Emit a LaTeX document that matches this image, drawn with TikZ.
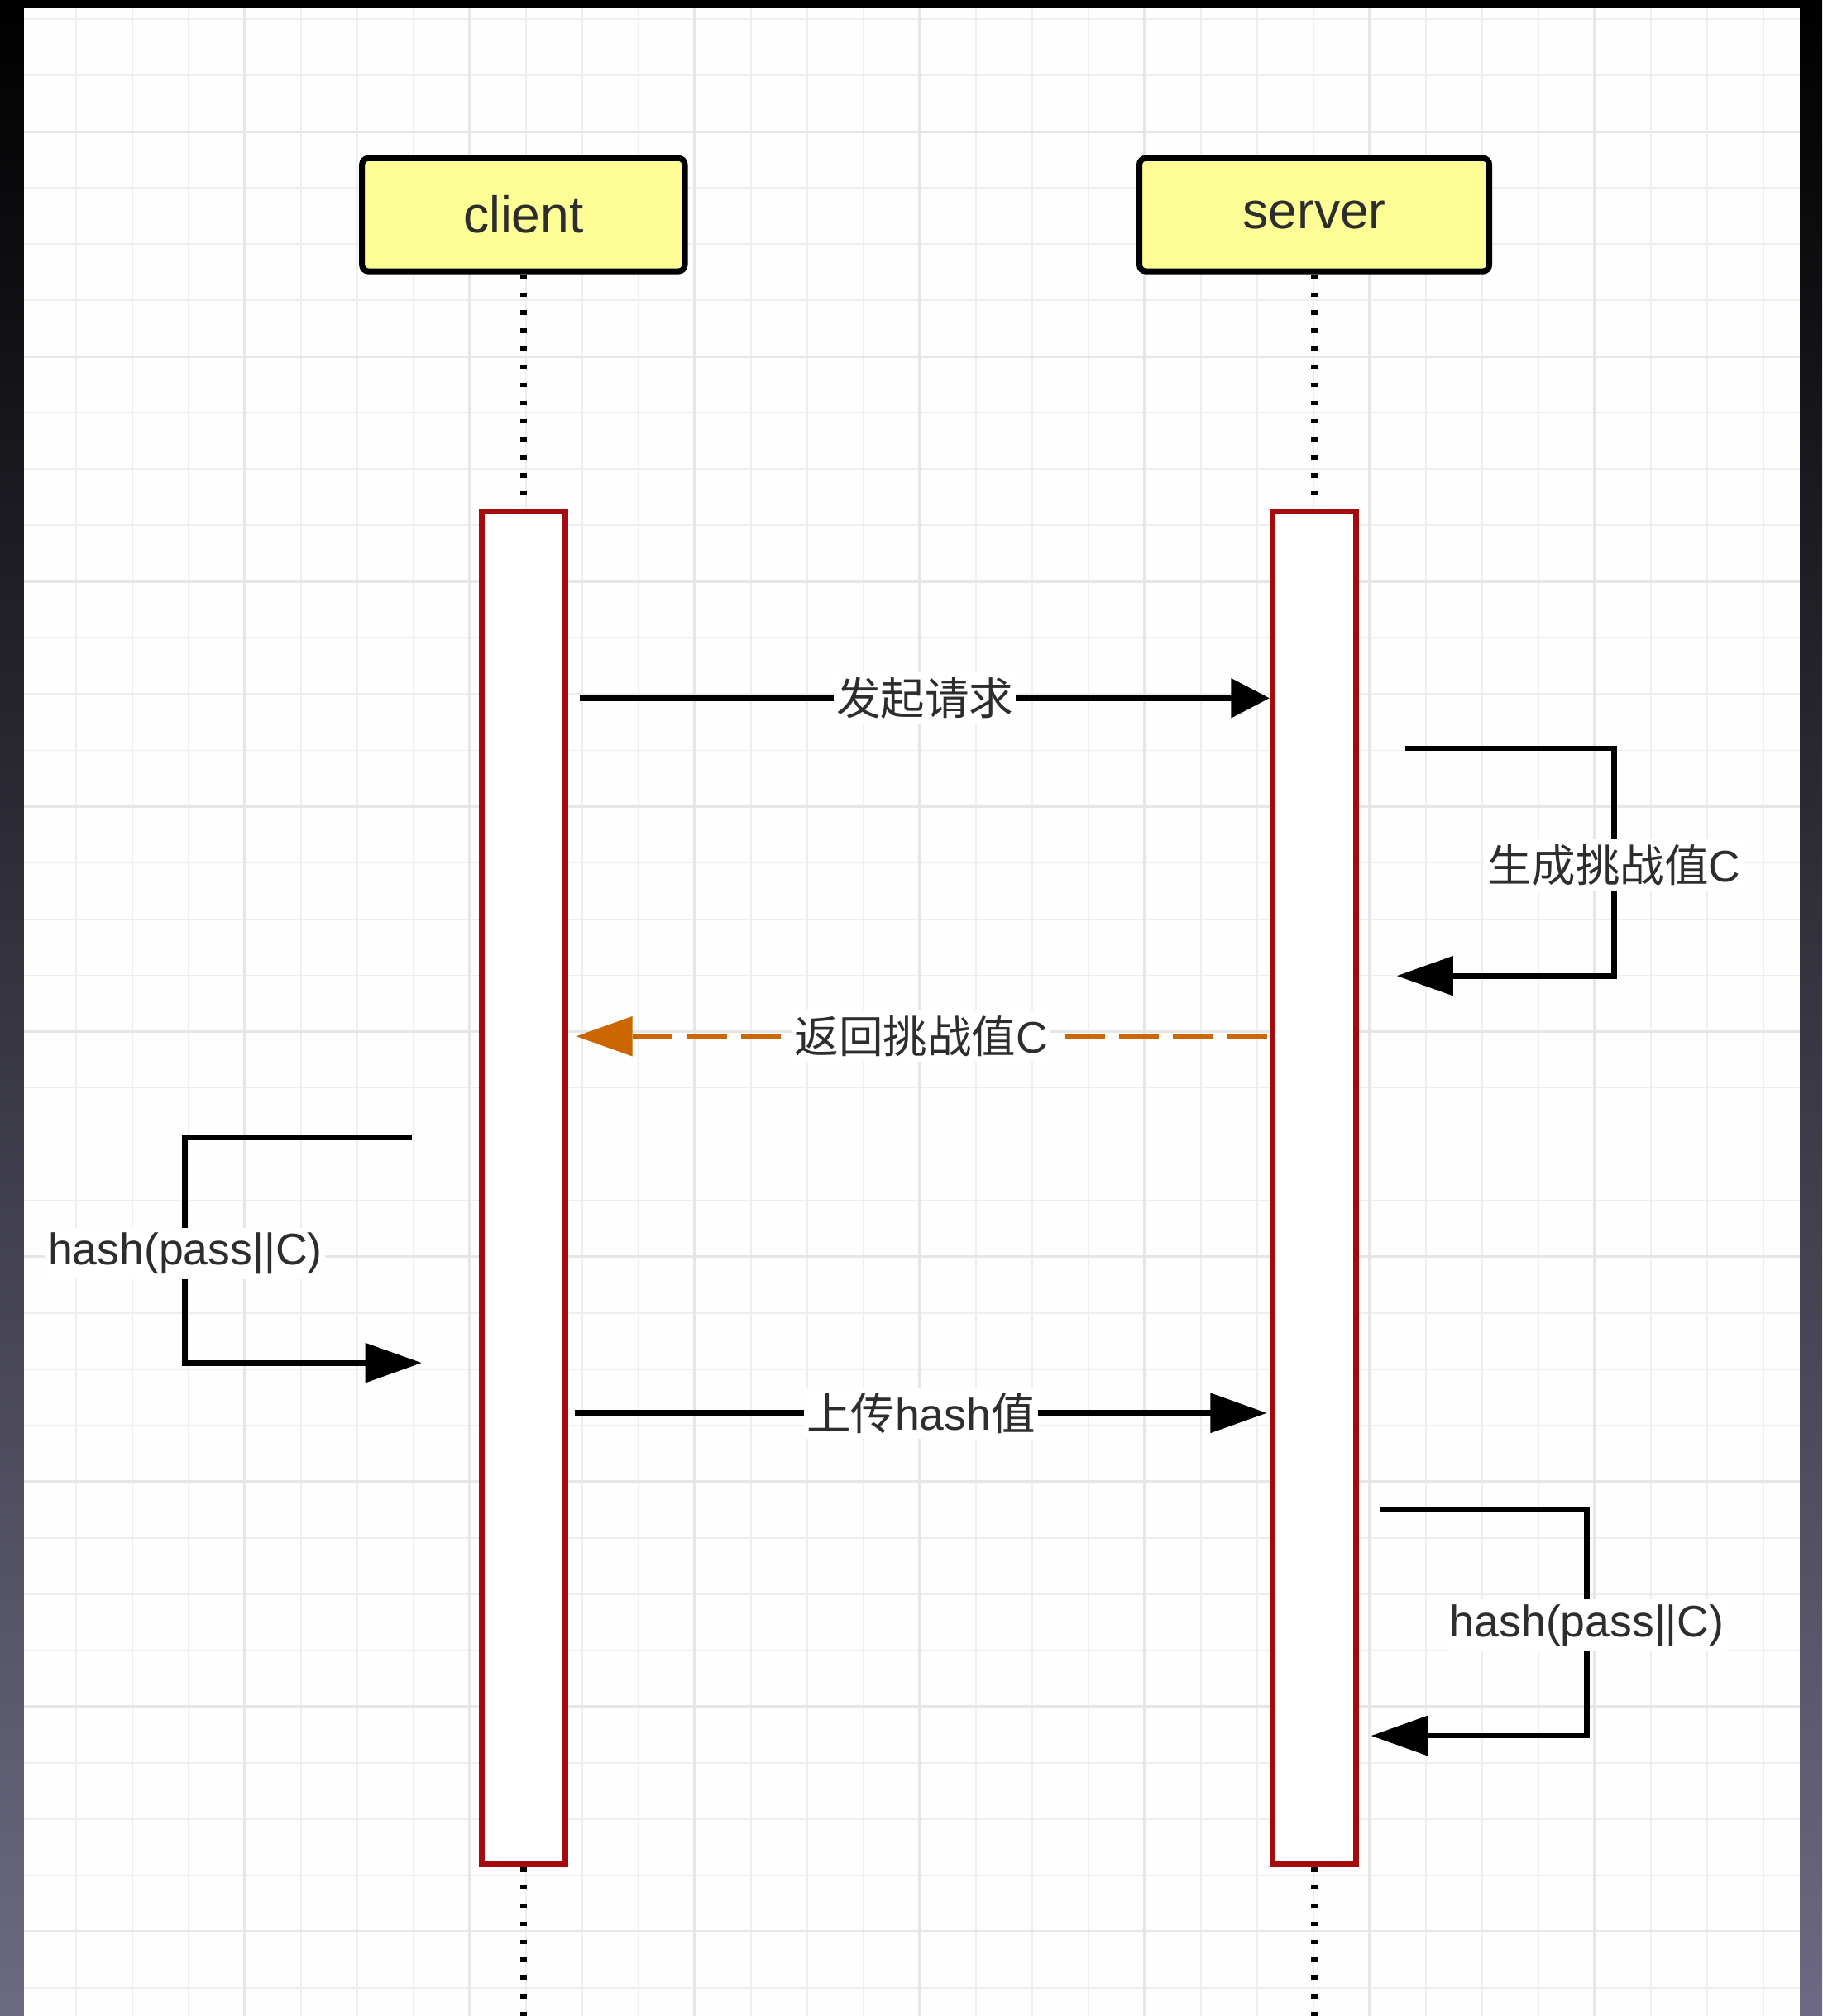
\documentclass[tikz,border=0pt]{standalone}
\usepackage{fontspec}
\usepackage{tikz}
\usepackage{xcolor}
\usetikzlibrary{arrows.meta}
\setmainfont{Liberation Sans}
\newfontfamily\cjk{Noto Sans CJK SC}
\definecolor{paper}{RGB}{254,254,254}
\definecolor{gridminor}{RGB}{238,238,238}
\definecolor{gridmajor}{RGB}{230,230,230}
\definecolor{lemon}{RGB}{253,253,150}
\definecolor{actred}{RGB}{165,10,15}
\definecolor{reply}{RGB}{204,102,0}
\definecolor{ink}{RGB}{45,45,45}
\definecolor{frametop}{RGB}{0,0,0}
\definecolor{framemid}{RGB}{28,28,58}
\definecolor{framebot}{RGB}{108,106,130}

\begin{document}
\begin{tikzpicture}[x=0.1mm,y=-0.1mm,
  actor/.style={rectangle,rounded corners=0.5mm,draw=black,line width=1.3pt,fill=lemon,text=ink,minimum width=#1,minimum height=8.8mm,font=\fontsize{11.4}{13}\selectfont},
  bar/.style={rectangle,draw=actred,line width=1.3pt,fill=white,minimum width=6.5mm,minimum height=105.2mm,inner sep=0pt},
  life/.style={line width=1.4pt,dash pattern=on 1pt off 3pt},
  msg/.style={line width=1.25pt,-{Triangle[length=4.4mm,width=3mm]}},
  lbl/.style={fill=white,text=ink,inner xsep=0.2mm,inner ysep=0.4mm,font=\fontsize{9.8}{11}\selectfont}]
\useasboundingbox (0,0) rectangle (1417,1568);
\shade[top color=frametop,middle color=framemid,bottom color=framebot] (0,0) rectangle (1417,1568);
\fill[paper] (18.7,6.4) rectangle (1399.7,1568);
\foreach \i in {0,...,30} \draw[gridminor,line width=0.35pt] ({58.9+43.74*\i},6.4) -- ({58.9+43.74*\i},1568);
\foreach \k in {0,...,35} \draw[gridminor,line width=0.35pt] (18.7,{15+43.74*\k}) -- (1399.7,{15+43.74*\k});
\foreach \i in {3,7,...,27} \draw[gridmajor,line width=0.5pt] ({58.9+43.74*\i},6.4) -- ({58.9+43.74*\i},1568);
\foreach \k in {2,6,...,34} \draw[gridmajor,line width=0.5pt] (18.7,{15+43.74*\k}) -- (1399.7,{15+43.74*\k});

\node (client) at (407,167) [actor=25.1mm]{client};
\node (server) at (1022,167) [actor=27.2mm]{server};
\node (cbar) at (407,924) [bar]{};
\node (sbar) at (1022,924) [bar]{};
\coordinate (cend) at (407,1568);
\coordinate (send) at (1022,1568);
\draw[life] (client) -- (cbar);
\draw[life] (server) -- (sbar);
\draw[life] (cbar) -- (cend);
\draw[life] (sbar) -- (send);

\coordinate (req) at (451,543);
\draw[msg,-{Triangle[length=3mm,width=3mm]}] (req) -- node[lbl]{\cjk 发起请求} (sbar.west |- req);
\coordinate (gen1) at (1093,582);
\coordinate (gen) at (1255,673);
\coordinate (gen2) at (1086,759);
\draw[msg] (gen1) -| (gen) |- (gen2);
\node[lbl] at (gen) {{\cjk 生成挑战值}C};
\coordinate (ret) at (985,806);
\draw[msg,reply,dash pattern=on 3.1mm off 1.1mm] (ret) -- node[lbl]{{\cjk 返回挑战值}C} ([xshift=0.6mm]cbar.east |- ret);
\coordinate (hc1) at (320,885);
\coordinate (hc) at (144,975);
\coordinate (hc2) at (328,1060);
\draw[msg] (hc1) -| (hc) |- (hc2);
\node[lbl] at (hc) {hash(pass||C)};
\coordinate (up) at (447,1099);
\draw[msg] (up) -- node[lbl]{{\cjk 上传}hash{\cjk 值}} ([xshift=-0.2mm]sbar.west |- up);
\coordinate (hs1) at (1073,1174);
\coordinate (hs) at (1234,1264);
\coordinate (hs2) at (1066,1350);
\draw[msg] (hs1) -| (hs) |- (hs2);
\node[lbl] at (hs) {hash(pass||C)};
\end{tikzpicture}
\end{document}
